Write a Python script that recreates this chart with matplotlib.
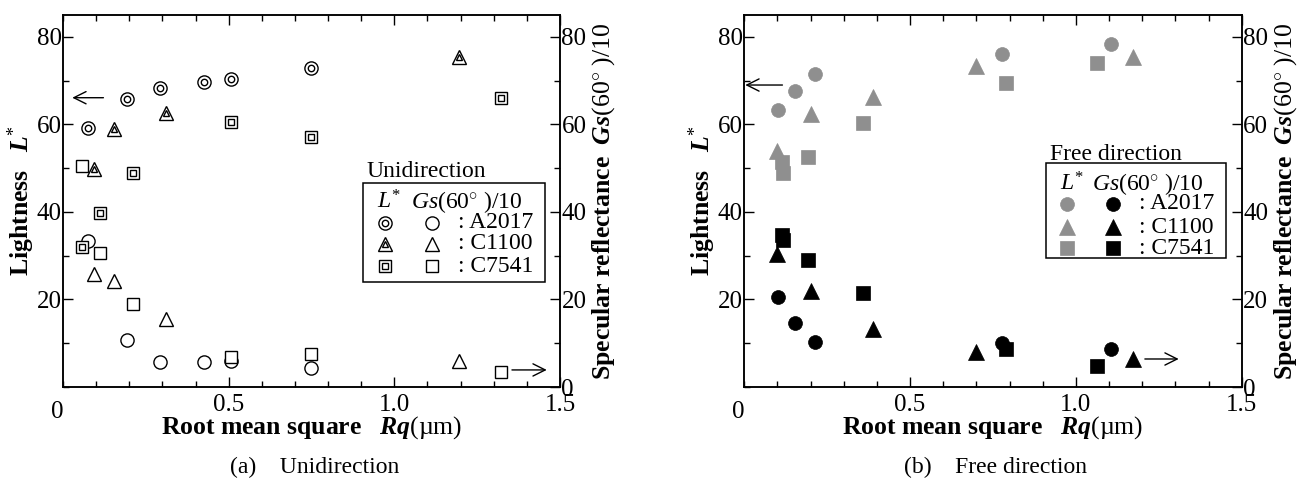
import matplotlib
matplotlib.use('Agg')
import matplotlib.pyplot as plt
from matplotlib.transforms import blended_transform_factory
from matplotlib.ticker import MultipleLocator

plt.rcParams['font.family'] = 'Liberation Serif'
plt.rcParams['mathtext.fontset'] = 'custom'
plt.rcParams['mathtext.rm'] = 'Liberation Serif'
plt.rcParams['mathtext.it'] = 'Liberation Serif:italic'
plt.rcParams['mathtext.bf'] = 'Liberation Serif:bold'
plt.rcParams['mathtext.bfit'] = 'Liberation Serif:bold:italic'

# ---------------- data ----------------
# (a) Unidirection
uni_a2017_rq = [0.075, 0.194, 0.294, 0.425, 0.506, 0.749]
uni_a2017_L = [59.1, 65.9, 68.3, 69.6, 70.3, 73.0]
uni_a2017_gs = [33.4, 10.7, 5.6, 5.6, 5.9, 4.4]
uni_c1100_rq = [0.094, 0.155, 0.311, 1.196]
uni_c1100_L = [49.8, 59.0, 62.6, 75.3]
uni_c1100_gs = [25.8, 24.3, 15.5, 5.9]
uni_c7541_rq = [0.056, 0.111, 0.210, 0.506, 0.749, 1.323]
uni_c7541_L = [32.1, 39.8, 49.0, 60.6, 57.2, 66.1]
uni_c7541_gs = [50.6, 30.7, 19.0, 6.9, 7.5, 3.5]

# (b) Free direction
free_a2017_rq = [0.103, 0.153, 0.213, 0.778, 1.105]
free_a2017_L = [63.3, 67.7, 71.5, 76.0, 78.4]
free_a2017_gs = [20.6, 14.7, 10.2, 10.0, 8.6]
free_c1100_rq = [0.098, 0.200, 0.389, 0.698, 1.173]
free_c1100_L = [54.0, 62.3, 66.2, 73.4, 75.3]
free_c1100_gs = [30.3, 21.9, 13.2, 8.1, 6.3]
free_c7541_rq = [0.113, 0.116, 0.191, 0.357, 0.789, 1.065]
free_c7541_L = [51.5, 49.0, 52.6, 60.3, 69.4, 74.1]
free_c7541_gs = [34.8, 33.6, 29.0, 21.4, 8.7, 4.8]

materials = ['A2017', 'C1100', 'C7541']
left_yticks = [20, 40, 60, 80]
right_yticks = [0, 20, 40, 60, 80]
xticks = [0.5, 1.0, 1.5]

GRAY = '#8f8f8f'
FS = 17      # legend / caption text
TFS = 18     # tick labels
LFS = 18.5   # axis labels

fig = plt.figure(figsize=(13.05, 4.79), dpi=100)
W, H = 1305, 479


def make_axes(x0px, x1px):
    ax = fig.add_axes([x0px / W, 1 - 387 / H, (x1px - x0px) / W, (387 - 15) / H])
    ax.set_xlim(0, 1.5)
    ax.set_ylim(0, 85)
    ax.set_xticks(xticks)
    ax.set_xticklabels(['0.5', '1.0', '1.5'])
    ax.xaxis.set_minor_locator(MultipleLocator(0.1))
    ax.set_yticks(left_yticks)
    ax.yaxis.set_minor_locator(MultipleLocator(10))
    ax.tick_params(which='both', direction='in', top=True, right=False,
                   labelsize=TFS, width=1.0)
    ax.tick_params(which='major', length=7.5)
    ax.tick_params(which='minor', length=4.5)
    ax.tick_params(axis='y', pad=1)
    ax.tick_params(axis='x', pad=5)
    for s in ax.spines.values():
        s.set_linewidth(1.1)
    ax2 = ax.twinx()
    ax2.set_ylim(0, 85)
    ax2.set_yticks(right_yticks)
    ax2.yaxis.set_minor_locator(MultipleLocator(10))
    ax2.tick_params(which='both', direction='in', labelsize=TFS, width=1.0, pad=1)
    ax2.tick_params(which='major', length=7.5)
    ax2.tick_params(which='minor', length=4.5)
    for s in ax2.spines.values():
        s.set_linewidth(1.1)
    tr = blended_transform_factory(ax.transData, ax.transAxes)
    ax.text(-0.018, -0.068, '0', transform=tr, ha='center', va='center', fontsize=TFS)
    ax.set_xlabel(r'$\mathbf{Root\ mean\ square}\ \ \ \mathbfit{Rq}\mathrm{(µm)}$',
                  fontsize=LFS, labelpad=-1)
    ax.set_ylabel(r'$\mathbf{Lightness}\ \ \ \mathbfit{L}^{*}$', fontsize=LFS, labelpad=0)
    ax2.set_ylabel(r'$\mathbf{Specular\ reflectance}\ \ \mathbfit{Gs}\mathrm{(60^{\circ}\ )/10}$',
                   fontsize=LFS, labelpad=3)
    return ax


MS = {'o': 9.5, '^': 10.5, 's': 9.2}
INNER = {'o': 4.6, '^': 5.0, 's': 4.4}
EW = 1.0


def open_marker(ax, x, y, m, **kw):
    ax.plot(x, y, ls='none', marker=m, ms=MS[m], mfc='white', mec='black', mew=EW,
            clip_on=False, **kw)


def double_marker(ax, x, y, m, **kw):
    ax.plot(x, y, ls='none', marker=m, ms=MS[m], mfc='white', mec='black', mew=EW,
            clip_on=False, **kw)
    ax.plot(x, y, ls='none', marker=m, ms=INNER[m], mfc='white', mec='black', mew=EW,
            clip_on=False, **kw)


def filled_marker(ax, x, y, m, color, **kw):
    ms = {'o': 10, '^': 11.5, 's': 9.5}[m]
    ax.plot(x, y, ls='none', marker=m, ms=ms, mfc=color, mec=color, mew=0.5,
            clip_on=False, **kw)


arrow_kw = dict(arrowstyle='->', lw=1.0, color='black', mutation_scale=22,
                shrinkA=0, shrinkB=0)

# ---------------- (a) ----------------
axa = make_axes(63, 560)
open_marker(axa, uni_a2017_rq, uni_a2017_gs, 'o')
open_marker(axa, uni_c1100_rq, uni_c1100_gs, '^')
open_marker(axa, uni_c7541_rq, uni_c7541_gs, 's')
double_marker(axa, uni_a2017_rq, uni_a2017_L, 'o')
double_marker(axa, uni_c1100_rq, uni_c1100_L, '^')
double_marker(axa, uni_c7541_rq, uni_c7541_L, 's')
axa.annotate('', xy=(0.028, 66.1), xytext=(0.122, 66.1), arrowprops=arrow_kw)
axa.annotate('', xy=(1.46, 3.9), xytext=(1.355, 3.9), arrowprops=arrow_kw)

# legend (a)
T = axa.transAxes
axa.add_patch(plt.Rectangle((0.604, 0.282), 0.366, 0.266, transform=T,
                            fill=False, ec='black', lw=1.1, clip_on=False))
axa.text(0.611, 0.578, 'Unidirection', transform=T, fontsize=FS, ha='left', va='center')
axa.text(0.632, 0.497, r'$\mathit{L}^{*}$', transform=T, fontsize=FS, ha='left', va='center')
axa.text(0.700, 0.497, r'$\mathit{Gs}\mathrm{(60^{\circ}\ )/10}$', transform=T,
         fontsize=FS, ha='left', va='center')
rows_a = [0.441, 0.385, 0.325]
for mat, m, ry in zip(materials, ['o', '^', 's'], rows_a):
    double_marker(axa, [0.648], [ry], m, transform=T)
    open_marker(axa, [0.742], [ry], m, transform=T)
    axa.text(0.795, ry, ': ' + mat, transform=T, fontsize=FS, ha='left', va='center')

# ---------------- (b) ----------------
axb = make_axes(744.3, 1241.7)
filled_marker(axb, free_a2017_rq, free_a2017_L, 'o', GRAY)
filled_marker(axb, free_c1100_rq, free_c1100_L, '^', GRAY)
filled_marker(axb, free_c7541_rq, free_c7541_L, 's', GRAY)
filled_marker(axb, free_a2017_rq, free_a2017_gs, 'o', 'black')
filled_marker(axb, free_c1100_rq, free_c1100_gs, '^', 'black')
filled_marker(axb, free_c7541_rq, free_c7541_gs, 's', 'black')
axb.annotate('', xy=(0.003, 69.0), xytext=(0.115, 69.0), arrowprops=arrow_kw)
axb.annotate('', xy=(1.31, 6.4), xytext=(1.208, 6.4), arrowprops=arrow_kw)

T = axb.transAxes
axb.add_patch(plt.Rectangle((0.606, 0.347), 0.362, 0.255, transform=T,
                            fill=False, ec='black', lw=1.1, clip_on=False))
axb.text(0.614, 0.626, 'Free direction', transform=T, fontsize=FS, ha='left', va='center')
axb.text(0.634, 0.545, r'$\mathit{L}^{*}$', transform=T, fontsize=FS, ha='left', va='center')
axb.text(0.700, 0.545, r'$\mathit{Gs}\mathrm{(60^{\circ}\ )/10}$', transform=T,
         fontsize=FS, ha='left', va='center')
rows_b = [0.492, 0.430, 0.373]
for mat, m, ry in zip(materials, ['o', '^', 's'], rows_b):
    filled_marker(axb, [0.648], [ry], m, GRAY, transform=T)
    filled_marker(axb, [0.741], [ry], m, 'black', transform=T)
    axb.text(0.793, ry, ': ' + mat, transform=T, fontsize=FS, ha='left', va='center')

# captions
fig.text(315 / W, 1 - 467 / H, '(a)    Unidirection', fontsize=FS, ha='center', va='center')
fig.text(995 / W, 1 - 467 / H, '(b)    Free direction', fontsize=FS, ha='center', va='center')

fig.savefig('out.png', dpi=100)
